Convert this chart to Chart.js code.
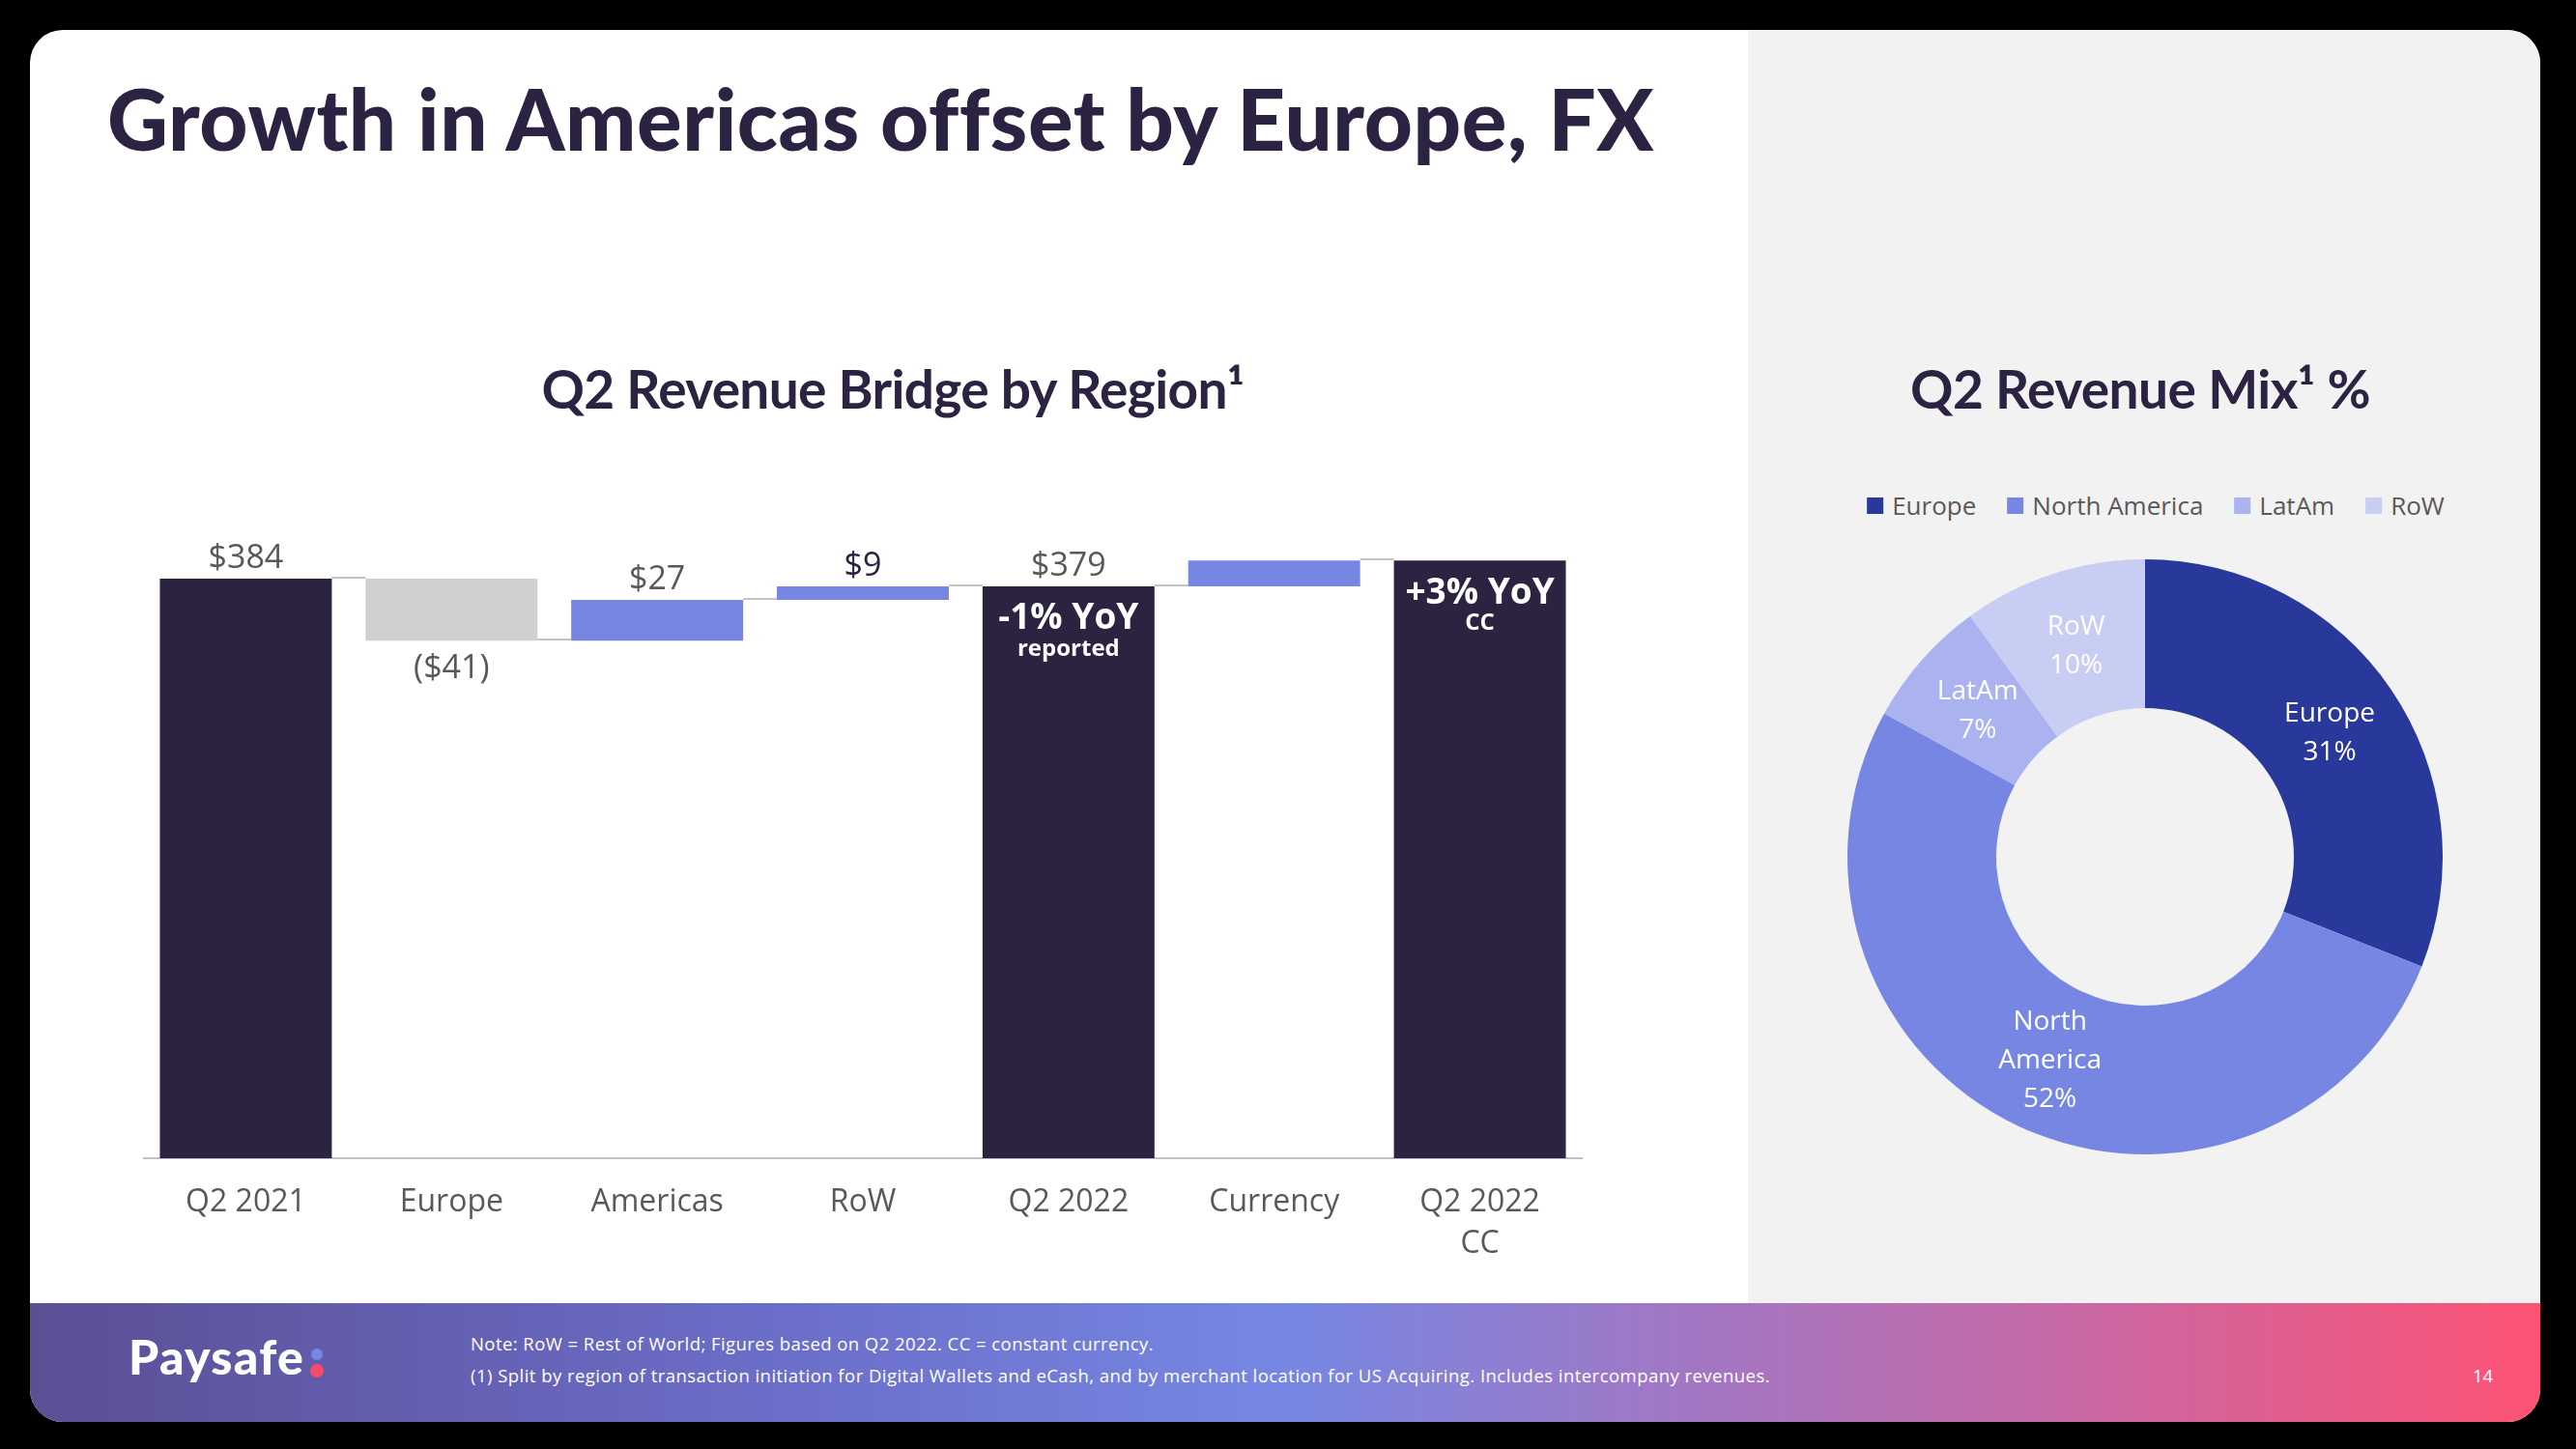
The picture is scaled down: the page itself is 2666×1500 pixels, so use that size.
<!DOCTYPE html>
<html><head><meta charset="utf-8">
<script src="https://cdn.jsdelivr.net/npm/chart.js@4.4.0/dist/chart.umd.min.js"></script>
<style>
html,body{margin:0;padding:0;background:#000;width:2666px;height:1500px;overflow:hidden;}
#card{position:absolute;left:31px;top:31px;width:2598px;height:1441px;background:#fff;border-radius:34px;overflow:hidden;}
#panel{position:absolute;left:1778px;top:0;width:820px;height:1318px;background:#f2f2f2;}
#footer{position:absolute;left:0;top:1318px;width:2598px;height:123px;
 background:linear-gradient(90deg,#5b4f95 0%,#6a6cc6 28%,#7687e3 50%,#9a7ac9 63%,#c46aa8 80%,#fd5274 100%);}
.t{position:absolute;white-space:nowrap;line-height:1.2;}
.head{font-family:Lato,sans-serif;font-weight:700;color:#2b2341;}
.note{font-family:'Open Sans',sans-serif;color:#fff;font-size:18.5px;}
#legend{position:absolute;top:508px;left:2231px;transform:translateX(-50%);display:flex;align-items:center;
 font-family:'Open Sans',sans-serif;font-size:26px;color:#595959;white-space:nowrap;line-height:30px;}
#legend .it{display:flex;align-items:center;margin-right:32px;}
#legend .it:last-child{margin-right:0;}
#legend .bx{width:17px;height:17px;margin-right:9px;}
#bar{position:absolute;left:148px;top:496px;}
#pie{position:absolute;left:1912px;top:579px;}
.dot{position:absolute;border-radius:50%;}
</style></head>
<body>
<div id="card"><div id="panel"></div><div id="footer"></div></div>
<div class="t head" id="title" style="left:111px;top:71px;font-size:87px;font-weight:900;">Growth in Americas offset by Europe, FX</div>
<div class="t head" id="sub1" style="left:560px;top:369px;font-size:55px;">Q2 Revenue Bridge by Region¹</div>
<div class="t head" id="sub2" style="left:1977px;top:369px;font-size:55px;">Q2 Revenue Mix¹ %</div>
<div id="legend"></div>
<canvas id="bar" width="1490" height="833"></canvas>
<canvas id="pie" width="616" height="616"></canvas>
<div class="t head" id="logo" style="left:133px;top:1374px;font-size:50px;color:#fff;font-weight:900;">Paysafe</div>
<div class="dot" style="left:322px;top:1396px;width:12px;height:12px;background:#7388e2;"></div>
<div class="dot" style="left:321px;top:1412px;width:14px;height:14px;background:#f64a6a;"></div>
<div class="t note" id="n1" style="left:487px;top:1380px;">Note: RoW = Rest of World; Figures based on Q2 2022. CC = constant currency.</div>
<div class="t note" id="n2" style="left:487px;top:1413px;">(1) Split by region of transaction initiation for Digital Wallets and eCash, and by merchant location for US Acquiring. Includes intercompany revenues.</div>
<div class="t note" id="pg" style="left:2559px;top:1413px;">14</div>
<script>
// ---------- data ----------
const bridgeCategories = ['Q2 2021', 'Europe', 'Americas', 'RoW', 'Q2 2022', 'Currency', ['Q2 2022', 'CC']];
const bridgeValues = [384, -41, 27, 9, 379, 17, 396];
const bridgeKinds = ['total', 'delta', 'delta', 'delta', 'total', 'delta', 'total'];
const bridgeValueLabels = ['$384', '($41)', '$27', '$9', '$379', '', ''];
const bridgeInnerMain = ['', '', '', '', '-1% YoY', '', '+3% YoY'];
const bridgeInnerSub = ['', '', '', '', 'reported', '', 'CC'];
const yAxisMin = 0;
const yAxisMax = 450;

const mixRegions = ['Europe', 'North America', 'LatAm', 'RoW'];
const mixValues = [31, 52, 7, 10];
const mixSliceLines = [['Europe'], ['North', 'America'], ['LatAm'], ['RoW']];

// ---------- styles ----------
const C_TOTAL = '#2c2341', C_NEG = '#d0d0d0', C_POS = '#7886e3';
const mixColors = ['#29399b', '#7886e3', '#aab3ef', '#c8cdf4'];

// fit text widths
function fit(id, w){const el=document.getElementById(id);const n=el.textContent.length;const cur=el.getBoundingClientRect().width;el.style.letterSpacing=((w-cur)/n)+'px';}
fit('title',1598); fit('sub1',727); fit('sub2',476); fit('logo',182); fit('n1',707); fit('n2',1345);
document.getElementById('sub1').style.left=(924-727/2)+'px';
document.getElementById('sub2').style.left=(2215-476/2)+'px';

// legend
const lg=document.getElementById('legend');
mixRegions.forEach((r,i)=>{const d=document.createElement('div');d.className='it';d.innerHTML='<div class="bx" style="background:'+mixColors[i]+'"></div><span>'+r+'</span>';lg.appendChild(d);});

Chart.defaults.font.family = "'Open Sans', sans-serif";
Chart.defaults.color = '#595959';

// waterfall ranges
const ranges = [], ends = [], colors = [];
let run = 0;
bridgeValues.forEach((v,i)=>{
  if (bridgeKinds[i]==='total'){ranges.push([0,v]); run=v; colors.push(C_TOTAL);}
  else {ranges.push([run, run+v]); run+=v; colors.push(v<0?C_NEG:C_POS);}
  ends.push(run);
});

const bridgePlugin = {
  id:'bridge',
  afterDatasetsDraw(chart){
    const ctx=chart.ctx, y=chart.scales.y, meta=chart.getDatasetMeta(0);
    ctx.save();
    ctx.strokeStyle='#c2c2c2'; ctx.lineWidth=2;
    for(let i=0;i<meta.data.length-1;i++){
      const a=meta.data[i], b=meta.data[i+1];
      const py=Math.round(y.getPixelForValue(ends[i]))-1;
      ctx.beginPath(); ctx.moveTo(a.x+a.width/2,py); ctx.lineTo(b.x-b.width/2,py); ctx.stroke();
    }
    ctx.textAlign='center'; ctx.textBaseline='middle';
    meta.data.forEach((bar,i)=>{
      const r=ranges[i];
      const top=y.getPixelForValue(Math.max(r[0],r[1])), bot=y.getPixelForValue(Math.min(r[0],r[1]));
      if(bridgeValueLabels[i]){
        ctx.font="34px 'Open Sans'";
        ctx.fillStyle = i===3 ? '#2c2341' : '#595959';
        if(bridgeValues[i]<0) ctx.fillText(bridgeValueLabels[i], bar.x, bot+29);
        else ctx.fillText(bridgeValueLabels[i], bar.x, top-21);
      }
      if(bridgeInnerMain[i]){
        ctx.fillStyle='#fff';
        ctx.font="bold 37px 'Open Sans'";
        ctx.fillText(bridgeInnerMain[i], bar.x, top+34);
        ctx.font="bold 24px 'Open Sans'";
        ctx.fillText(bridgeInnerSub[i], bar.x, top+65);
      }
    });
    ctx.restore();
  }
};

new Chart(document.getElementById('bar'), {
  type:'bar',
  data:{labels:bridgeCategories, datasets:[{data:ranges, backgroundColor:colors, borderWidth:0, barPercentage:0.836, categoryPercentage:1.0}]},
  options:{
    responsive:false, animation:false, maintainAspectRatio:false,
    layout:{padding:0},
    plugins:{legend:{display:false}, tooltip:{enabled:false}},
    scales:{
      y:{display:false, min:yAxisMin, max:yAxisMax},
      x:{grid:{display:false, drawTicks:false}, border:{display:true, color:'#c0c0c0', width:2},
         ticks:{font:{size:32, lineHeight:1.35}, color:'#595959', padding:24, maxRotation:0, autoSkip:false},
         afterFit(ax){ax.height=130;}}
    }
  },
  plugins:[bridgePlugin]
});

const pieLabelPlugin = {
  id:'pieLabels',
  afterDatasetsDraw(chart){
    const ctx=chart.ctx, meta=chart.getDatasetMeta(0);
    ctx.save(); ctx.fillStyle='#fff'; ctx.font="28px 'Open Sans'"; ctx.textAlign='center'; ctx.textBaseline='middle';
    meta.data.forEach((arc,i)=>{
      const p=arc.getCenterPoint();
      const lines=mixSliceLines[i].concat([mixValues[i]+'%']);
      const lh=40, y0=p.y-(lines.length-1)*lh/2 + 2;
      lines.forEach((l,k)=>ctx.fillText(l,p.x,y0+k*lh));
    });
    ctx.restore();
  }
};

new Chart(document.getElementById('pie'), {
  type:'doughnut',
  data:{labels:mixRegions, datasets:[{data:mixValues, backgroundColor:mixColors, borderWidth:0}]},
  options:{responsive:false, animation:false, cutout:'50%', layout:{padding:0},
    plugins:{legend:{display:false}, tooltip:{enabled:false}}},
  plugins:[pieLabelPlugin]
});
</script>
</body></html>
